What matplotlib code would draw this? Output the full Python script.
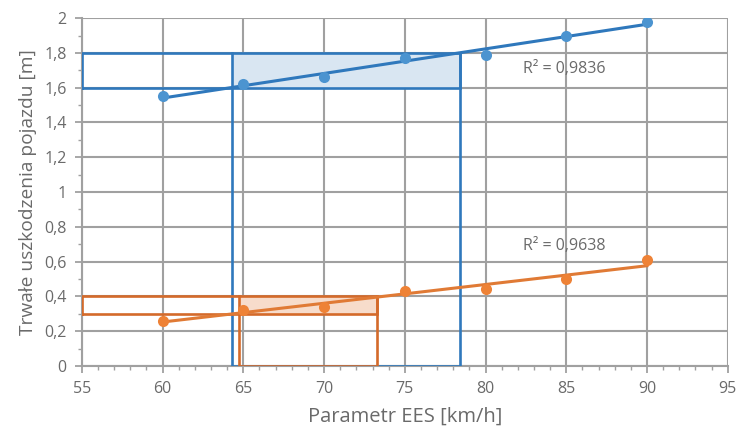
import numpy as np
import matplotlib.pyplot as plt
from matplotlib.ticker import MultipleLocator, FuncFormatter

plt.rcParams['font.family'] = ['Open Sans', 'DejaVu Sans']

# data
ees = [60, 65, 70, 75, 80, 85, 90]
blue_vals = [1.55, 1.62, 1.66, 1.77, 1.79, 1.90, 1.98]
orange_vals = [0.26, 0.32, 0.34, 0.43, 0.44, 0.50, 0.61]

# range boxes: damage levels and matching EES crossings
blue_levels = [1.6, 1.8]
blue_cross = [64.3, 78.4]
orange_levels = [0.3, 0.4]
orange_cross = [64.7, 73.3]

r2_labels = ['R² = 0,9836', 'R² = 0,9638']

BLUE_PT = '#4C94D0'
BLUE_LN = '#2F78BC'
ORANGE_PT = '#EE8236'
ORANGE_LN = '#E07A35'
BOX_ORANGE = '#D46A2A'
GRID = '#A0A0A0'
TXT = '#6A6A6A'

fig = plt.figure(figsize=(7.38, 4.33), dpi=100)
ax = fig.add_axes([0.111, 0.155, 0.875, 0.803])
ax.set_xlim(55, 95)
ax.set_ylim(0, 2)


def draw_boxes(levels, cross, edge, fill):
    lo, hi = levels
    x1, x2 = cross
    # shaded band between crossings
    ax.fill_between([x1, x2], lo, hi, color=fill, zorder=2, lw=0)
    # horizontal band from the y axis
    ax.plot([55, x2, x2, 55, 55], [lo, lo, hi, hi, lo], color=edge, lw=1.9, zorder=3,
            solid_joinstyle='miter')
    # vertical box down to the x axis
    ax.plot([x1, x1, x2, x2], [hi, 0, 0, hi], color=edge, lw=1.9, zorder=3,
            solid_joinstyle='miter')


draw_boxes(blue_levels, blue_cross, BLUE_LN, '#D9E6F2')
draw_boxes(orange_levels, orange_cross, BOX_ORANGE, '#F7DCCB')

x = np.array(ees)
for vals, pt, ln in [(blue_vals, BLUE_PT, BLUE_LN), (orange_vals, ORANGE_PT, ORANGE_LN)]:
    k, b = np.polyfit(x, vals, 1)
    ax.plot([x[0], x[-1]], [k * x[0] + b, k * x[-1] + b], color=ln, lw=2.2, zorder=5)
    ax.plot(x, vals, 'o', color=pt, ms=8, zorder=6, mec='none')

ax.text(82.3, 1.71, r2_labels[0], color=TXT, fontsize=11.5, va='center', zorder=7)
ax.text(82.3, 0.69, r2_labels[1], color=TXT, fontsize=11.5, va='center', zorder=7)

ax.xaxis.set_major_locator(MultipleLocator(5))
ax.xaxis.set_minor_locator(MultipleLocator(1))
ax.yaxis.set_major_locator(MultipleLocator(0.2))
ax.yaxis.set_minor_locator(MultipleLocator(0.1))
ax.yaxis.set_major_formatter(FuncFormatter(lambda v, p: ('%g' % round(v, 1)).replace('.', ',')))

ax.grid(True, which='major', color=GRID, lw=1.5, zorder=1)
ax.set_axisbelow(True)
for s in ['top', 'right']:
    ax.spines[s].set_visible(False)
for s in ['left', 'bottom']:
    ax.spines[s].set_color(GRID)
    ax.spines[s].set_linewidth(1.5)

ax.tick_params(which='major', direction='out', length=5, width=1.3, color=GRID,
               labelsize=11.5, labelcolor=TXT, pad=6)
ax.tick_params(which='minor', direction='out', length=3, width=1, color=GRID)

ax.set_xlabel('Parametr EES [km/h]', fontsize=14.5, color=TXT, labelpad=7)
ax.set_ylabel('Trwałe uszkodzenia pojazdu [m]', fontsize=13.8, color=TXT, labelpad=5)

fig.savefig('out.png', dpi=100)
